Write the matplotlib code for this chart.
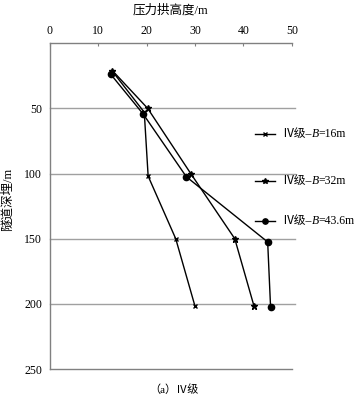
import matplotlib
matplotlib.use("Agg")
import matplotlib.pyplot as plt
from matplotlib.lines import Line2D
from matplotlib.offsetbox import TextArea, HPacker, DrawingArea, AnchoredOffsetbox

plt.rcParams['font.family'] = ['Liberation Serif', 'Noto Sans CJK SC']

# Data (depth in m, pressure arch height in m)
depth_16 = [22, 53, 102, 150, 202]
height_16 = [13.0, 19.5, 20.3, 26.0, 30.0]
depth_32 = [21, 50, 100, 150, 202]
height_32 = [12.9, 20.2, 29.1, 38.2, 42.2]
depth_436 = [24, 54.5, 102.5, 152.5, 202.5]
height_436 = [12.6, 19.3, 28.2, 45.0, 45.6]

widths = ["16", "32", "43.6"]
markers = ['x', '*', 'o']
marker_sizes = [3.5, 5, 4.5]
x_ticks = [0, 10, 20, 30, 40, 50]
y_ticks = [50, 100, 150, 200, 250]

fig = plt.figure(figsize=(3.59, 3.96), dpi=100)
ax = fig.add_axes([0.139, 0.068, 0.674, 0.823])

ax.set_xlim(0, 50)
ax.set_ylim(250, 0)

for y in [50, 100, 150, 200]:
    ax.axhline(y, xmin=0, xmax=1.012, color='#a0a0a0', lw=1.0, clip_on=False, zorder=1)

series = [(height_16, depth_16), (height_32, depth_32), (height_436, depth_436)]
for (hx, dy), m, ms in zip(series, markers, marker_sizes):
    ax.plot(hx, dy, color='black', lw=1.0, marker=m, ms=ms, mew=1.0, zorder=3)

ax.xaxis.tick_top()
ax.xaxis.set_label_position('top')
ax.set_xticks(x_ticks)
ax.set_yticks(y_ticks)
ax.tick_params(axis='x', direction='in', length=2, width=0.8, color='#808080', labelsize=8.5, pad=4.5)
ax.tick_params(axis='y', length=0, labelsize=8.5, pad=5.5)

for s in ['top', 'left', 'bottom']:
    ax.spines[s].set_color('#808080')
    ax.spines[s].set_linewidth(1.0)
ax.spines['right'].set_visible(False)

ax.set_xlabel('压力拱高度/m', fontsize=9, labelpad=8)
fig.text(0.022, 0.497, '隧道深埋/m', rotation=90, fontsize=9, ha='center', va='center')
fig.text(0.485, 0.016, '（a）Ⅳ级', fontsize=8, ha='center', va='center')

# Legend entries built with offset boxes (italic B)
leg_y = [1 - 134 / 396, 1 - 181 / 396, 1 - 221 / 396]
for w, m, ms, yy in zip(widths, markers, marker_sizes, leg_y):
    da = DrawingArea(14.5, 8, 0, 0)
    da.add_artist(Line2D([0, 14.5], [4, 4], color='black', lw=1.0))
    da.add_artist(Line2D([7.25], [4], color='black', marker=m, ms=ms * 0.85, mew=1.0))
    tp = dict(fontsize=8.5, color='black')
    t1 = TextArea("Ⅳ级–", textprops=tp)
    t2 = TextArea("B", textprops=dict(fontsize=8.5, color='black', style='italic'))
    t3 = TextArea("=" + w + "m", textprops=tp)
    txt = HPacker(children=[t1, t2, t3], align='baseline', pad=0, sep=0)
    box = HPacker(children=[da, txt], align='center', pad=0, sep=5)
    ab = AnchoredOffsetbox(loc='center left', child=box, bbox_to_anchor=(255 / 359, yy),
                           bbox_transform=fig.transFigure, frameon=False, pad=0, borderpad=0)
    fig.add_artist(ab)

fig.savefig('out.png', dpi=100)
